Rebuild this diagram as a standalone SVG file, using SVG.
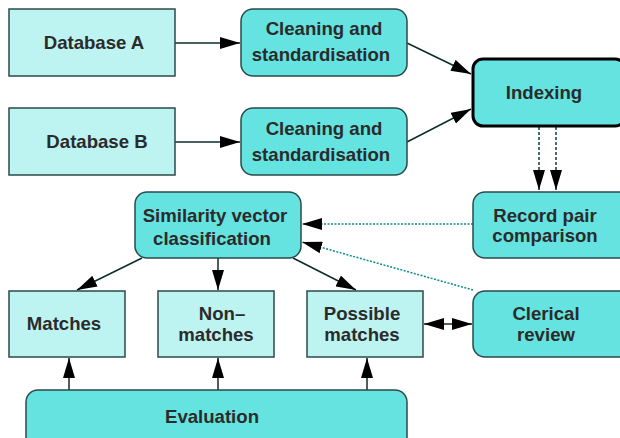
<svg xmlns="http://www.w3.org/2000/svg" width="620" height="438" viewBox="0 0 620 438">
<defs>
<style>
.lt{fill:#bdf3f1;stroke:#2a4a4a;stroke-width:1.5}
.dk{fill:#64e3e0;stroke:#2a4a4a;stroke-width:1.5}
.t{font-family:"Liberation Sans",Arial,sans-serif;font-weight:bold;font-size:18.6px;fill:#2b2b2b;text-anchor:middle}
.c{stroke:#0d2c2c;stroke-width:1.5;fill:none}
.d{stroke:#0a8a8a;stroke-width:1.5;fill:none;stroke-dasharray:2 1.5}
.dd{stroke:#0d3c3c;stroke-width:1.5;fill:none;stroke-dasharray:3 2}
</style>
<marker id="ah" viewBox="0 0 20 12" refX="20" refY="6" markerWidth="20" markerHeight="12" markerUnits="userSpaceOnUse" orient="auto-start-reverse">
<path d="M0,0 L20,6 L0,12 Z" fill="#000"/>
</marker>
</defs>
<g id="connectors">
<line class="c" x1="175" y1="43" x2="240" y2="43" marker-end="url(#ah)"/>
<line class="c" x1="175" y1="142" x2="240" y2="142" marker-end="url(#ah)"/>
<line class="c" x1="407" y1="43" x2="471" y2="74" marker-end="url(#ah)"/>
<line class="c" x1="407" y1="142" x2="471" y2="109" marker-end="url(#ah)"/>
<line class="dd" x1="539" y1="127" x2="539" y2="190" marker-end="url(#ah)"/>
<line class="dd" x1="556" y1="127" x2="556" y2="190" marker-end="url(#ah)"/>
<line class="d" x1="473" y1="224" x2="302" y2="224" marker-end="url(#ah)"/>
<line class="d" x1="473" y1="290" x2="302" y2="242" marker-end="url(#ah)"/>
<line class="c" x1="142" y1="258" x2="77" y2="290" marker-end="url(#ah)"/>
<line class="c" x1="218" y1="258" x2="218" y2="290" marker-end="url(#ah)"/>
<line class="c" x1="293" y1="258" x2="356" y2="290" marker-end="url(#ah)"/>
<line class="c" x1="424" y1="324" x2="472" y2="324" marker-start="url(#ah)" marker-end="url(#ah)"/>
<line class="c" x1="69" y1="390" x2="69" y2="358" marker-end="url(#ah)"/>
<line class="c" x1="218" y1="390" x2="218" y2="358" marker-end="url(#ah)"/>
<line class="c" x1="367" y1="390" x2="367" y2="358" marker-end="url(#ah)"/>
</g>
<g id="dbA"><rect class="lt" x="9" y="9" width="166" height="67"/><text class="t" x="94" y="49">Database A</text></g>
<g id="dbB"><rect class="lt" x="9" y="108" width="166" height="67"/><text class="t" x="97" y="148">Database B</text></g>
<g id="cleanA"><rect class="dk" x="241" y="9" width="166" height="67" rx="12"/><text class="t" x="324" y="35">Cleaning and</text><text class="t" x="321" y="61">standardisation</text></g>
<g id="cleanB"><rect class="dk" x="241" y="108" width="166" height="67" rx="12"/><text class="t" x="324" y="135">Cleaning and</text><text class="t" x="321" y="161">standardisation</text></g>
<g id="indexing"><rect x="473" y="59" width="152" height="67" rx="10" fill="#64e3e0" stroke="#000" stroke-width="3"/><text class="t" x="544" y="99">Indexing</text></g>
<g id="recordpair"><rect class="dk" x="473" y="192" width="160" height="66" rx="12"/><text class="t" x="545" y="222">Record pair</text><text class="t" x="545" y="242">comparison</text></g>
<g id="similarity"><rect class="dk" x="135" y="192" width="166" height="66" rx="12"/><text class="t" x="215" y="222">Similarity vector</text><text class="t" x="212" y="245">classification</text></g>
<g id="matches"><rect class="lt" x="9" y="291" width="116" height="66"/><text class="t" x="64" y="330">Matches</text></g>
<g id="nonmatches"><rect class="lt" x="158" y="291" width="116" height="66"/><text class="t" x="222" y="320">Non–</text><text class="t" x="216" y="341">matches</text></g>
<g id="possible"><rect class="lt" x="307" y="291" width="116" height="66"/><text class="t" x="362" y="320">Possible</text><text class="t" x="362" y="341">matches</text></g>
<g id="clerical"><rect class="dk" x="473" y="291" width="160" height="66" rx="12"/><text class="t" x="546" y="320">Clerical</text><text class="t" x="546" y="341">review</text></g>
<g id="evaluation"><rect class="dk" x="26" y="390" width="381" height="60" rx="12"/><text class="t" x="212" y="423">Evaluation</text></g>
</svg>
